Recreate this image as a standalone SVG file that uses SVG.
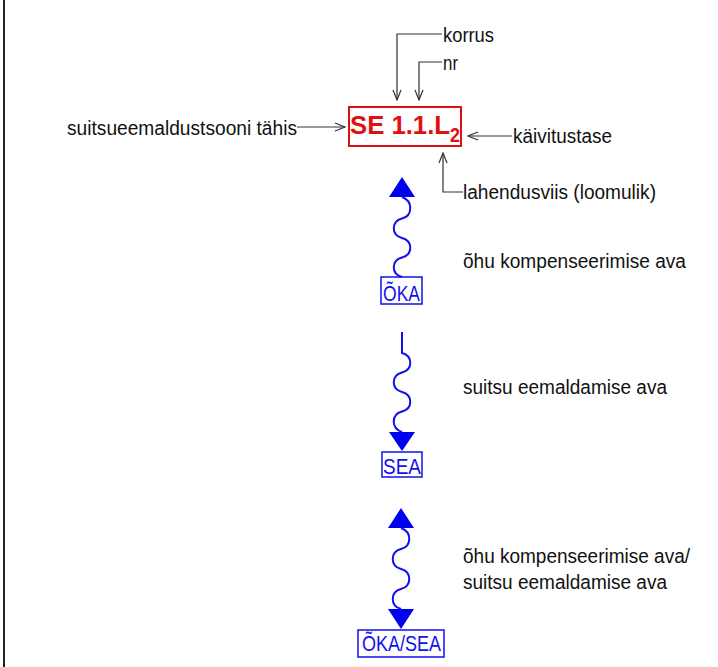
<svg xmlns="http://www.w3.org/2000/svg" width="718" height="667" viewBox="0 0 718 667">
<defs>
<style>
.t{font-family:"Liberation Sans",Arial,sans-serif;font-size:20px;fill:#111}
.b{font-family:"Liberation Sans",Arial,sans-serif;font-size:22px;fill:#1010ee}
.c{fill:none;stroke:#333;stroke-width:1.2}
.w{fill:none;stroke:#1010ee;stroke-width:2}
.bx{fill:none;stroke:#1010ee;stroke-width:1.5}
.tri{fill:#0000ee}
</style>
<marker id="ah" markerUnits="userSpaceOnUse" markerWidth="12" markerHeight="10" refX="10" refY="4" orient="auto" viewBox="-1 -1 12 10">
<path d="M0,0 L10,4 L0,8" fill="none" stroke="#333" stroke-width="1.2"/>
</marker>
</defs>
<rect width="718" height="667" fill="#fff"/>
<line x1="4" y1="0" x2="4" y2="667" stroke="#222" stroke-width="2"/>

<g id="connectors">
<polyline class="c" points="442,34 397,34 397,100" marker-end="url(#ah)"/>
<polyline class="c" points="442,62 419,62 419,100" marker-end="url(#ah)"/>
<polyline class="c" points="297,127 345,127" marker-end="url(#ah)"/>
<polyline class="c" points="512,136 468,136" marker-end="url(#ah)"/>
<polyline class="c" points="463,192 443,192 443,153" marker-end="url(#ah)"/>
</g>

<g id="label-korrus"><text class="t" x="443" y="42" textLength="51" lengthAdjust="spacingAndGlyphs">korrus</text></g>
<g id="label-nr"><text class="t" x="443" y="70" textLength="15" lengthAdjust="spacingAndGlyphs">nr</text></g>
<g id="label-tahis"><text class="t" x="67" y="135" textLength="230" lengthAdjust="spacingAndGlyphs">suitsueemaldustsooni tähis</text></g>
<g id="label-kaivitustase"><text class="t" x="513" y="143" textLength="99" lengthAdjust="spacingAndGlyphs">käivitustase</text></g>
<g id="label-lahendusviis"><text class="t" x="463" y="199" textLength="193" lengthAdjust="spacingAndGlyphs">lahendusviis (loomulik)</text></g>

<g id="code">
<rect x="349" y="107" width="112" height="39" fill="none" stroke="#e01010" stroke-width="2"/>
<text x="350" y="134" font-family="Liberation Sans,Arial,sans-serif" font-weight="bold" font-size="25" fill="#e01010" textLength="100" lengthAdjust="spacingAndGlyphs">SE 1.1.L</text>
<text x="450" y="142" font-family="Liberation Sans,Arial,sans-serif" font-weight="bold" font-size="20" fill="#e01010" textLength="10" lengthAdjust="spacingAndGlyphs">2</text>
</g>

<g id="oka">
<polygon class="tri" points="402,177 389,197 415,197"/>
<path class="w" d="M402,197 C413,201 413,215.5 402,218.5 C391,221.5 391,235 402,238 C413,241 413,254.5 402,257.5 C391,260.5 391,274 402,277"/>
<rect class="bx" x="381" y="277" width="41" height="27"/>
<text class="b" x="383" y="301" textLength="37" lengthAdjust="spacingAndGlyphs">ÕKA</text>
</g>
<g id="label-oka"><text class="t" x="463" y="268" textLength="223" lengthAdjust="spacingAndGlyphs">õhu kompenseerimise ava</text></g>

<g id="sea">
<path class="w" d="M402,332 L402,353 C413,356 413,369.5 402,372.5 C391,375.5 391,389 402,392 C413,395 413,408.5 402,411.5 C391,414.5 391,428 402,432"/>
<polygon class="tri" points="389,432 415,432 402,451"/>
<rect class="bx" x="382" y="452" width="40" height="25"/>
<text class="b" x="383" y="474" textLength="38" lengthAdjust="spacingAndGlyphs">SEA</text>
</g>
<g id="label-sea"><text class="t" x="463" y="394" textLength="204" lengthAdjust="spacingAndGlyphs">suitsu eemaldamise ava</text></g>

<g id="okasea">
<polygon class="tri" points="401,508 388,528 414,528"/>
<path class="w" d="M401,528 C412,532 412,546 401,549 C390,552 390,566 401,569 C412,572 412,586 401,589 C390,592 390,606 401,609"/>
<polygon class="tri" points="388,609 414,609 401,629"/>
<rect class="bx" x="358" y="630" width="86" height="27"/>
<text class="b" x="362" y="651" textLength="79" lengthAdjust="spacingAndGlyphs">ÕKA/SEA</text>
</g>
<g id="label-okasea">
<text class="t" x="463" y="563" textLength="227" lengthAdjust="spacingAndGlyphs">õhu kompenseerimise ava/</text>
<text class="t" x="463" y="589" textLength="204" lengthAdjust="spacingAndGlyphs">suitsu eemaldamise ava</text>
</g>
</svg>
